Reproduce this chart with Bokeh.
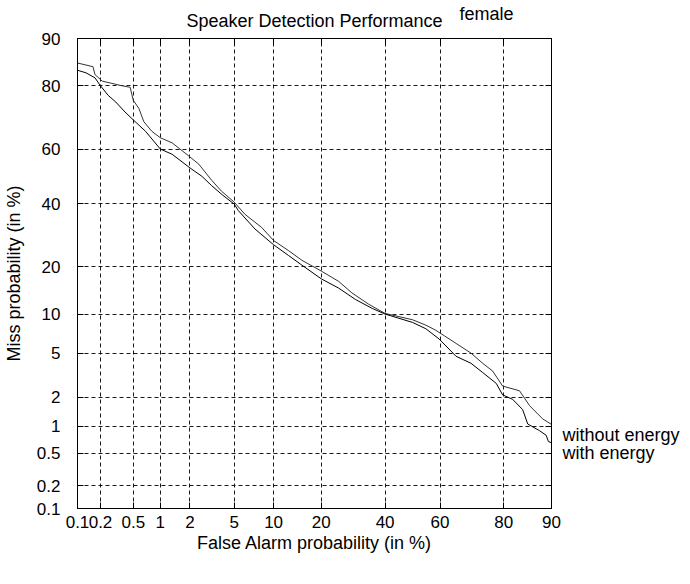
from statistics import NormalDist
from bokeh.plotting import figure
from bokeh.models import FixedTicker, LinearAxis, Range1d
from bokeh.embed import file_html
from bokeh.resources import INLINE

# ---------------- data (percent) ----------------
tick_values = [0.1, 0.2, 0.5, 1, 2, 5, 10, 20, 40, 60, 80, 90]
tick_labels = ["0.1", "0.2", "0.5", "1", "2", "5", "10", "20", "40", "60", "80", "90"]

fa_without = [0.1, 0.16, 0.17, 0.21, 0.37, 0.46, 0.5, 0.58, 0.66, 0.81,
              1.0, 1.33, 1.95, 2.43, 3.2, 3.9, 5.0, 6.1, 8.2, 10,
              12.6, 15.4, 20, 24.8, 28.8, 34.3, 40, 50, 54.9, 58.5,
              61.5, 65.6, 70.5, 74.1, 77, 79.7, 83.8, 86, 88.5, 90]
miss_without = [85.4, 84.6, 82.8, 81.2, 80, 79.6, 76, 73.6, 69.4, 66.2,
                64, 62.2, 57.5, 54.5, 48.5, 44.5, 40.5, 36.2, 31.7, 27.5,
                24.5, 21.7, 18.9, 16.4, 13.9, 11.7, 10.1, 9.1, 8.3, 7.6,
                6.9, 6.0, 5.0, 4.1, 3.5, 2.55, 2.3, 1.64, 1.2, 1.05]

fa_with = [0.1, 0.13, 0.17, 0.2, 0.25, 0.31, 0.4, 0.5, 0.69, 1.0,
           1.33, 2.02, 2.6, 3.2, 4.0, 5.0, 5.4, 7.3, 10, 12.6,
           15.4, 20, 24.8, 29.9, 35.5, 40, 50, 54.9, 59.7, 65.6,
           70.5, 74.1, 78, 79.7, 82.2, 84.5, 85.6, 87.9, 89.1, 89.5, 90]
miss_with = [83.8, 83.2, 82, 80, 77.4, 75.5, 72.5, 70, 66.2, 60,
             58.1, 53, 50, 46.5, 43, 39.8, 37.5, 31.2, 26.2, 23.1,
             20.4, 17, 14.9, 12.6, 10.95, 10.0, 8.7, 7.8, 6.5, 4.7,
             4.1, 3.4, 2.7, 2.1, 1.9, 1.5, 1.06, 0.9, 0.8, 0.68, 0.66]

title_text = "Speaker Detection Performance"
subtitle_text = "female"
label_without = "without energy"
label_with = "with energy"

# ---------------- normal deviate scale ----------------
nd = NormalDist()


def probit(pct):
    return nd.inv_cdf(pct / 100.0)


FONT = "Liberation Sans"
xmin, xmax = probit(tick_values[0]), probit(tick_values[-1])
ymin, ymax = xmin, xmax

W, H = 682, 570
ML, MR, MT, MB = 77, 131, 38, 62
frame_w = W - ML - MR
frame_h = H - MT - MB
ppu_x = frame_w / (xmax - xmin)
ppu_y = frame_h / (ymax - ymin)

p = figure(width=W, height=H, output_backend="svg", toolbar_location=None,
           x_range=Range1d(xmin, xmax), y_range=Range1d(ymin, ymax),
           min_border_left=ML, min_border_right=MR,
           min_border_top=MT, min_border_bottom=MB,
           x_axis_label="False Alarm probability (in %)",
           y_axis_label="Miss probability (in %)")
p.background_fill_color = "white"
p.border_fill_color = "white"
p.outline_line_color = "black"
p.outline_line_width = 1

ticks = [probit(v) for v in tick_values]
overrides = {t: lab for t, lab in zip(ticks, tick_labels)}

for ax in (p.xaxis[0], p.yaxis[0]):
    ax.ticker = FixedTicker(ticks=ticks)
    ax.major_label_overrides = overrides
    ax.major_tick_in = 6
    ax.major_tick_out = 0
    ax.minor_tick_line_color = None
    ax.axis_line_color = "black"
    ax.major_tick_line_color = "black"
    ax.major_label_text_font = FONT
    ax.major_label_text_font_size = "17px"
    ax.major_label_text_color = "black"
    ax.axis_label_text_font = FONT
    ax.axis_label_text_font_size = "18px"
    ax.axis_label_text_font_style = "normal"
    ax.axis_label_text_color = "black"

p.yaxis[0].major_label_standoff = 17
p.yaxis[0].axis_label_standoff = 10
p.xaxis[0].major_label_standoff = 7
p.xaxis[0].axis_label_standoff = 2


def tick_only_axis():
    ax = LinearAxis(ticker=FixedTicker(ticks=ticks))
    ax.major_tick_in = 6
    ax.major_tick_out = 0
    ax.minor_tick_line_color = None
    ax.major_label_standoff = 0
    ax.major_label_text_font_size = "0px"
    ax.major_label_text_alpha = 0
    ax.axis_line_color = "black"
    ax.major_tick_line_color = "black"
    return ax


def text_axis(positions, texts, size, standoff, line_height=1.2):
    ax = LinearAxis(ticker=FixedTicker(ticks=positions))
    ax.major_label_overrides = {t: s for t, s in zip(positions, texts)}
    ax.major_tick_in = 0
    ax.major_tick_out = 0
    ax.major_tick_line_color = None
    ax.minor_tick_line_color = None
    ax.axis_line_color = None
    ax.major_label_standoff = standoff
    ax.major_label_text_font = FONT
    ax.major_label_text_font_size = size
    ax.major_label_text_color = "black"
    ax.major_label_text_line_height = line_height
    return ax


# tick marks on the top and right edges
p.add_layout(tick_only_axis(), "above")
p.add_layout(tick_only_axis(), "right")

# title and subtitle above the box (placed through a label-only axis);
# the subtitle is lifted a little with a second, empty line
title_x = [(xmin + xmax) / 2, xmin + 409 / ppu_x]
p.add_layout(text_axis(title_x, [title_text, subtitle_text + "\n "], "18px", 8,
                       line_height=0.35), "above")

# curve names at the right of the box
names_y = [ymax - 396 / ppu_y, ymax - 414 / ppu_y]
p.add_layout(text_axis(names_y, [label_without, label_with], "18px", 11), "right")

for g in (p.xgrid[0], p.ygrid[0]):
    g.ticker = FixedTicker(ticks=ticks)
    g.grid_line_color = "black"
    g.grid_line_dash = "4 3"
    g.grid_line_width = 1
    g.grid_line_alpha = 0.9

# ---------------- curves ----------------
p.line([probit(v) for v in fa_without], [probit(v) for v in miss_without],
       line_color="#333333", line_width=1)
p.line([probit(v) for v in fa_with], [probit(v) for v in miss_with],
       line_color="black", line_width=1)

open("out.html", "w").write(file_html(p, INLINE))
